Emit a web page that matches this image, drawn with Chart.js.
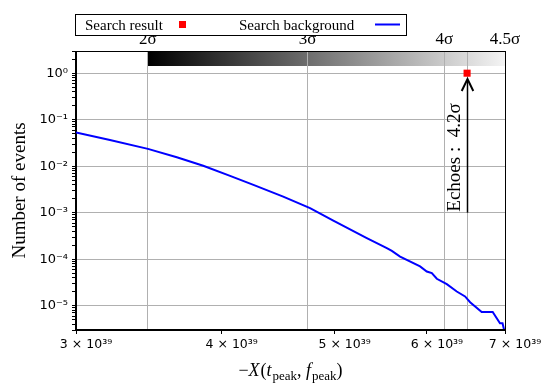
<!DOCTYPE html>
<html>
<head>
<meta charset="utf-8">
<script src="https://cdn.jsdelivr.net/npm/chart.js@4/dist/chart.umd.min.js"></script>
<style>
  html, body { margin: 0; padding: 0; background: #fff; }
</style>
</head>
<body>
<canvas id="chart" width="550" height="390"></canvas>
<script>
// ----- DATA ----- //
const bgX = [3.000e39, 3.208e39, 3.458e39, 3.661e39, 3.857e39, 4.067e39, 4.259e39, 4.517e39,
             4.763e39, 4.987e39, 5.328e39, 5.543e39, 5.598e39, 5.690e39, 5.919e39, 5.998e39,
             6.058e39, 6.118e39, 6.240e39, 6.364e39, 6.469e39, 6.534e39, 6.685e39, 6.832e39,
             6.931e39, 6.966e39, 7.000e39];
const bgY = [0.0528, 0.0365, 0.0236, 0.0156, 0.0102, 0.00619, 0.00397, 0.00222,
             0.00125, 6.75e-4, 2.84e-4, 1.73e-4, 1.51e-4, 1.14e-4, 6.97e-5, 5.44e-5,
             5.02e-5, 3.79e-5, 2.91e-5, 2.02e-5, 1.58e-5, 1.19e-5, 7.3e-6, 7.3e-6,
             4.2e-6, 4.2e-6, 2.5e-6];

// search result and its arrow
const echoX = [6.495e39];
const echoY = [1];
const echoText = 'Echoes :  4.2σ';
const arrowFromY = 1e-3;
const arrowToY = 0.75;

const legendLabels = ['Search result', 'Search background'];

// axes
const xTicks = [3e39, 4e39, 5e39, 6e39, 7e39];
const xTickLabels = ['3 × 10³⁹', '4 × 10³⁹', '5 × 10³⁹', '6 × 10³⁹', '7 × 10³⁹'];
const yTickExps = [0, -1, -2, -3, -4, -5];
const yTickLabels = ['10⁰', '10⁻¹', '10⁻²', '10⁻³', '10⁻⁴', '10⁻⁵'];
const sigmaX = [3.458e39, 4.739e39, 6.210e39, 6.495e39, 7e39];
const sigmaLabels = ['2σ', '3σ', '4σ', '', '4.5σ'];

const SERIF = 'Liberation Serif';
const SANS = 'DejaVu Sans';

function isPow10(v) {
    const e = Math.round(Math.log10(v));
    return Math.abs(v - Math.pow(10, e)) < 1e-6 * v;
}

// gradient strip across the top, under the grid
const gradientStrip = {
    id: 'gradientStrip',
    beforeDraw(chart) {
        const ctx = chart.ctx;
        const a = chart.chartArea;
        const sx = chart.scales.x2;
        const x0 = sx.getPixelForValue(sigmaX[0]);
        const x1 = sx.getPixelForValue(sigmaX[sigmaX.length - 1]);
        const g = ctx.createLinearGradient(x0, 0, x1, 0);
        g.addColorStop(0, '#000000');
        g.addColorStop(1, '#f4f4f4');
        ctx.save();
        ctx.fillStyle = g;
        ctx.fillRect(x0, a.top, x1 - x0, 15);
        ctx.restore();
    }
};

// arrow and text for the search result
const echoArrow = {
    id: 'echoArrow',
    afterDatasetsDraw(chart) {
        const ctx = chart.ctx;
        const x = Math.round(chart.scales.x.getPixelForValue(echoX[0])) + 0.5;
        const y0 = chart.scales.y.getPixelForValue(arrowFromY);
        const y1 = chart.scales.y.getPixelForValue(arrowToY);
        ctx.save();
        ctx.strokeStyle = '#000';
        ctx.lineWidth = 1.5;
        ctx.beginPath();
        ctx.moveTo(x, y0);
        ctx.lineTo(x, y1 + 1);
        ctx.stroke();
        ctx.lineWidth = 2;
        ctx.lineJoin = 'miter';
        ctx.beginPath();
        ctx.moveTo(x - 5.8, y1 + 12);
        ctx.lineTo(x, y1);
        ctx.lineTo(x + 5.8, y1 + 12);
        ctx.stroke();

        ctx.translate(x - 12, y0 - 1);
        ctx.rotate(-Math.PI / 2);
        ctx.fillStyle = '#000';
        ctx.font = '19px "' + SERIF + '"';
        ctx.textAlign = 'left';
        ctx.textBaseline = 'middle';
        ctx.fillText(echoText, 0, 0);
        ctx.restore();
    }
};

// frame, legend and x title
const decorations = {
    id: 'decorations',
    afterDraw(chart) {
        const ctx = chart.ctx;
        const a = chart.chartArea;
        ctx.save();
        // axes frame
        ctx.strokeStyle = '#000';
        ctx.lineWidth = 1;
        ctx.strokeRect(Math.round(a.left) - 0.5, Math.round(a.top) + 0.5,
                       Math.round(a.right - a.left) + 1, Math.round(a.bottom - a.top) - 1);

        // legend box (label first, marker after)
        ctx.fillStyle = '#fff';
        ctx.fillRect(75, 14, 331, 21);
        ctx.strokeRect(75.5, 14.5, 331, 21);
        ctx.font = '15px "' + SERIF + '"';
        ctx.fillStyle = '#000';
        ctx.textBaseline = 'alphabetic';
        ctx.textAlign = 'left';
        ctx.fillText(legendLabels[0], 85, 30);
        ctx.fillStyle = '#ff0000';
        ctx.fillRect(179, 21, 7, 7);
        ctx.fillStyle = '#000';
        ctx.fillText(legendLabels[1], 239, 30);
        ctx.strokeStyle = '#0000ff';
        ctx.lineWidth = 2;
        ctx.beginPath();
        ctx.moveTo(375, 24.5);
        ctx.lineTo(400, 24.5);
        ctx.stroke();

        // x title: -X(t_peak, f_peak)
        const parts = [['−', 'n'], ['X', 'i'], ['(', 'n'], ['t', 'i'], ['peak', 's'], [', ', 'n'],
                       ['f', 'i'], ['peak', 's'], [')', 'n']];
        const fontFor = s => s === 'i' ? 'italic 18px "' + SERIF + '"'
                           : s === 's' ? '13px "' + SERIF + '"'
                           : '18px "' + SERIF + '"';
        let total = 0;
        parts.forEach(p => { ctx.font = fontFor(p[1]); total += ctx.measureText(p[0]).width + (p[1] === 'i' ? 1 : 0); });
        let cx = (a.left + a.right) / 2 - total / 2;
        const base = 376;
        ctx.fillStyle = '#000';
        parts.forEach(p => {
            ctx.font = fontFor(p[1]);
            ctx.fillText(p[0], cx, p[1] === 's' ? base + 4 : base);
            cx += ctx.measureText(p[0]).width + (p[1] === 'i' ? 1 : 0);
        });
        ctx.restore();
    }
};

const ctx = document.getElementById('chart').getContext('2d');
new Chart(ctx, {
    type: 'line',
    data: {
        datasets: [
            {
                label: legendLabels[1],
                data: bgX.map((x, i) => ({ x: x, y: bgY[i] })),
                borderColor: '#0000ff',
                borderWidth: 2,
                pointRadius: 0,
                fill: false,
                tension: 0,
                xAxisID: 'x',
                yAxisID: 'y'
            },
            {
                label: legendLabels[0],
                type: 'scatter',
                data: echoX.map((x, i) => ({ x: x, y: echoY[i] })),
                pointStyle: 'rect',
                pointRadius: 5,
                backgroundColor: '#ff0000',
                borderWidth: 0,
                showLine: false,
                clip: false,
                xAxisID: 'x',
                yAxisID: 'y'
            }
        ]
    },
    options: {
        responsive: false,
        animation: false,
        layout: { padding: { left: 0, right: 45, top: 0, bottom: 0 } },
        plugins: { legend: { display: false }, tooltip: { enabled: false } },
        scales: {
            x: {
                type: 'logarithmic',
                position: 'bottom',
                min: 3e39,
                max: 7e39,
                afterBuildTicks: s => { s.ticks = xTicks.map(v => ({ value: v })); },
                afterFit: s => { s.height = 60; },
                ticks: {
                    callback: (v, i) => xTickLabels[i],
                    autoSkip: false,
                    maxRotation: 0,
                    labelOffset: 10,
                    padding: 3,
                    color: '#000',
                    font: { family: SANS, size: 12.5 }
                },
                grid: { color: 'rgba(0,0,0,0)', tickColor: '#000', tickLength: 4 },
                border: { color: '#000', width: 1 }
            },
            x2: {
                type: 'logarithmic',
                position: 'top',
                min: 3e39,
                max: 7e39,
                afterBuildTicks: s => { s.ticks = sigmaX.map(v => ({ value: v })); },
                afterFit: s => { s.height = 51; },
                ticks: {
                    callback: (v, i) => sigmaLabels[i],
                    autoSkip: false,
                    maxRotation: 0,
                    padding: 1,
                    color: '#000',
                    font: { family: SERIF, size: 17 }
                },
                grid: { color: '#b0b0b0', lineWidth: 1, drawTicks: false },
                border: { display: false }
            },
            y: {
                type: 'logarithmic',
                min: 3e-6,
                max: 3,
                afterBuildTicks: s => {
                    const t = [];
                    for (let e = -6; e <= 0; e++) {
                        for (let m = 1; m <= 9; m++) {
                            const v = m * Math.pow(10, e);
                            if (v >= 3e-6 && v <= 3) t.push({ value: v });
                        }
                    }
                    s.ticks = t;
                },
                afterFit: s => { s.width = 76; },
                ticks: {
                    callback: v => {
                        if (!isPow10(v)) return '';
                        const k = yTickExps.indexOf(Math.round(Math.log10(v)));
                        return k >= 0 ? yTickLabels[k] : '';
                    },
                    autoSkip: false,
                    padding: 4,
                    color: '#000',
                    font: { family: SANS, size: 13 }
                },
                grid: {
                    color: c => (c.tick && isPow10(c.tick.value)) ? '#b0b0b0' : 'rgba(0,0,0,0)',
                    tickColor: '#000',
                    tickLength: 4
                },
                border: { color: '#000', width: 1 },
                title: {
                    display: true,
                    text: 'Number of events',
                    color: '#000',
                    font: { family: SERIF, size: 19 },
                    padding: { top: 9, bottom: 0 }
                }
            }
        }
    },
    plugins: [gradientStrip, echoArrow, decorations]
});
</script>
</body>
</html>
